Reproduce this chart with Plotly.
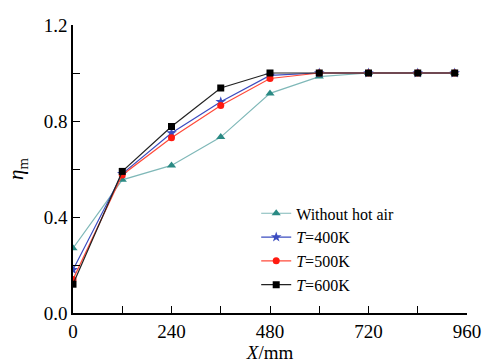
import plotly.graph_objects as go

x_mm = [0, 120, 240, 360, 480, 600, 720, 840, 930]
without_hot_air = [0.27, 0.555, 0.615, 0.733, 0.915, 0.985, 1.0, 1.0, 1.0]
t400 = [0.18, 0.58, 0.75, 0.88, 0.99, 1.0, 1.0, 1.0, 1.0]
t500 = [0.14, 0.575, 0.73, 0.865, 0.977, 1.0, 1.0, 1.0, 1.0]
t600 = [0.12, 0.59, 0.777, 0.9375, 1.0, 1.0, 1.0, 1.0, 1.0]

series = [
    ("Without hot air", without_hot_air, "#7fb8b8", "#2a8a84", "triangle-up", 8),
    ("<i>T</i>=400K", t400, "#3b4cc0", "#3b4cc0", "star", 8),
    ("<i>T</i>=500K", t500, "#ff4a3a", "#ff1a10", "circle", 7),
    ("<i>T</i>=600K", t600, "#222222", "#000000", "square", 7),
]

fig = go.Figure()
for name, ys, lc, mc, sym, ms in series:
    fig.add_trace(go.Scatter(
        x=x_mm, y=ys, name=name, mode="lines+markers",
        line=dict(color=lc, width=1.2),
        marker=dict(symbol=sym, size=ms, color=mc),
    ))

font_family = "Liberation Serif, Times New Roman, serif"
fig.update_layout(
    width=483, height=363,
    margin=dict(l=73, r=16, t=25, b=50),
    paper_bgcolor="white", plot_bgcolor="white",
    font=dict(family=font_family, size=19, color="black"),
    showlegend=True,
    legend=dict(x=0.465, y=0.405, xanchor="left", yanchor="top",
                bgcolor="rgba(0,0,0,0)", font=dict(size=16, family=font_family),
                tracegroupgap=0, itemwidth=30),
    xaxis=dict(
        range=[0, 960], tickvals=[0, 240, 480, 720, 960], automargin=False,
        showgrid=False, zeroline=False, showline=True, linecolor="black", linewidth=1.5,
        ticks="inside", ticklen=7, tickcolor="black", tickwidth=1.2,
        minor=dict(tickvals=[120, 360, 600, 840], ticks="inside", ticklen=7, tickcolor="black", tickwidth=1.2, showgrid=False),
        title=dict(text="<i>X</i>/mm", standoff=2, font=dict(size=19)),
    ),
    yaxis=dict(
        range=[0, 1.2], tickvals=[0, 0.4, 0.8, 1.2], ticktext=["0.0", "0.4", "0.8", "1.2"], automargin=False,
        showgrid=False, zeroline=False, showline=True, linecolor="black", linewidth=1.5,
        ticks="inside", ticklen=7, tickcolor="black", tickwidth=1.2,
        minor=dict(tickvals=[0.2, 0.6, 1.0], ticks="inside", ticklen=7, tickcolor="black", tickwidth=1.2, showgrid=False),
        title=dict(text="<i>η</i><sub>m</sub>", standoff=14, font=dict(size=21)),
    ),
)

fig.write_html("out.html")
